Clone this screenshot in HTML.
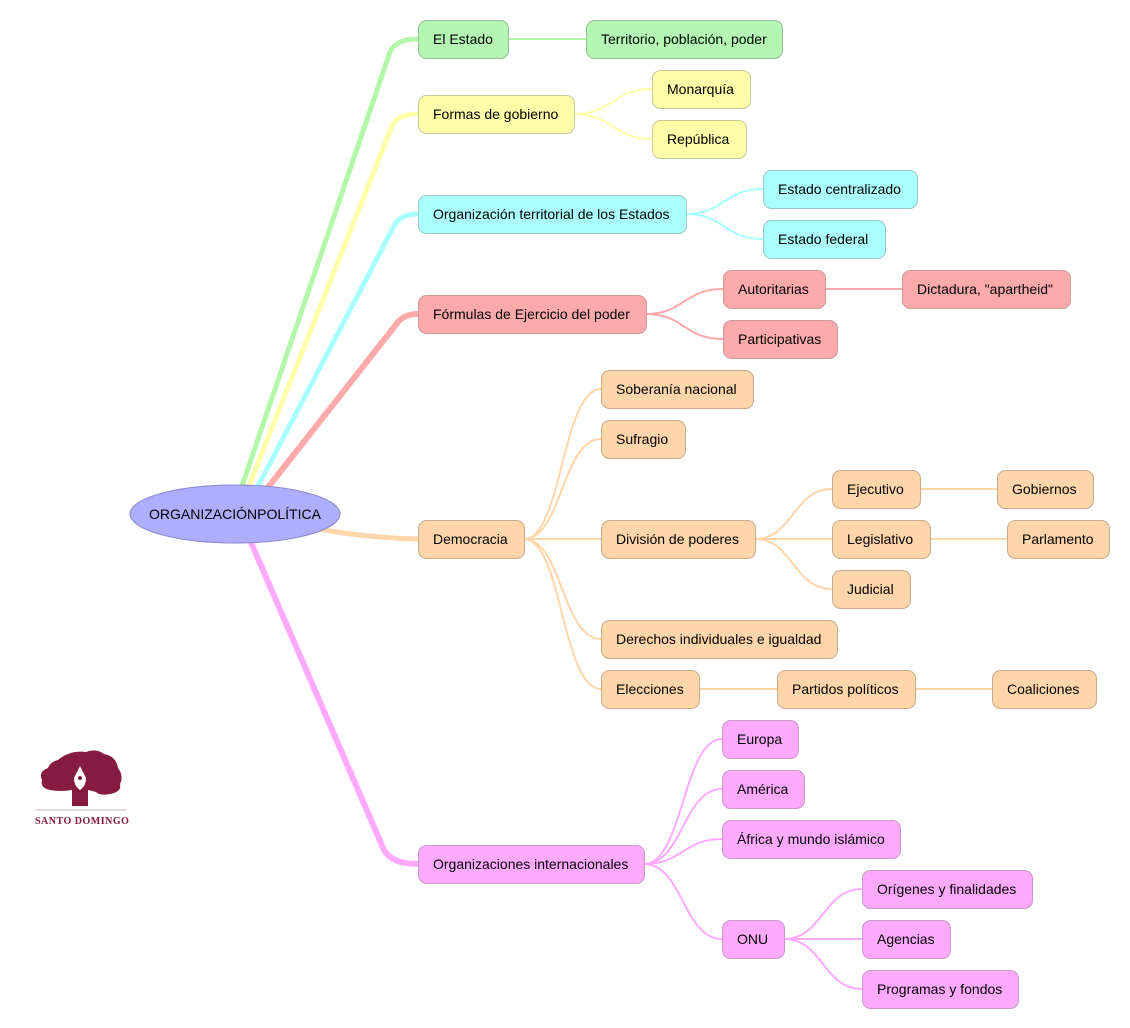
<!DOCTYPE html>
<html><head><meta charset="utf-8"><style>
html,body{margin:0;padding:0;background:#fff;width:1130px;height:1028px;overflow:hidden}
svg text{font-family:"Liberation Sans",sans-serif;font-size:14px;fill:#000}
</style></head><body>
<svg width="1130" height="1028" viewBox="0 0 1130 1028" xmlns="http://www.w3.org/2000/svg">
<g fill="none" stroke-linecap="round">
<!-- main branches -->
<path d="M242,486 L390,52 Q396,39 418,39" stroke="#b3f7a8" stroke-width="5"/>
<path d="M248,488 L392,126 Q398,114 418,114" stroke="#ffffa8" stroke-width="5"/>
<path d="M256,490 L395,224 Q402,214 418,214" stroke="#a8ffff" stroke-width="5"/>
<path d="M266,490 L398,322 Q405,314 418,314" stroke="#ffaaaa" stroke-width="6"/>
<path d="M318,529 Q370,538 418,539" stroke="#ffd5aa" stroke-width="5"/>
<path d="M250,540 L384,850 Q392,864 418,864" stroke="#ffaaff" stroke-width="6"/>
<!-- green -->
<path d="M508,39 L586,39" stroke="#b3f7a8" stroke-width="2"/>
<!-- yellow -->
<g stroke="#ffffa8" stroke-width="2">
<path d="M574,114 C613,114 613,89 652,89"/><path d="M574,114 C613,114 613,139 652,139"/></g>
<g stroke="#a8ffff" stroke-width="2">
<path d="M686,214 C724,214 724,189 763,189"/><path d="M686,214 C724,214 724,239 763,239"/></g>
<g stroke="#ffaaaa" stroke-width="2">
<path d="M646,314 C684,314 684,289 723,289"/><path d="M646,314 C684,314 684,339 723,339"/><path d="M825,289 L902,289"/></g>
<g stroke="#ffd5aa" stroke-width="2">
<path d="M524,539 C562,539 562,389 601,389"/><path d="M524,539 C562,539 562,439 601,439"/><path d="M524,539 L601,539"/>
<path d="M524,539 C562,539 562,639 601,639"/><path d="M524,539 C562,539 562,689 601,689"/>
<path d="M755,539 C793,539 793,489 832,489"/><path d="M755,539 L832,539"/><path d="M755,539 C793,539 793,589 832,589"/>
<path d="M920,489 L997,489"/><path d="M930,539 L1007,539"/><path d="M699,689 L777,689"/><path d="M915,689 L992,689"/></g>
<g stroke="#ffaaff" stroke-width="2">
<path d="M644,864 C683,864 683,739 722,739"/><path d="M644,864 C683,864 683,789 722,789"/><path d="M644,864 C683,864 683,839 722,839"/><path d="M644,864 C683,864 683,939 722,939"/>
<path d="M784,939 C823,939 823,889 862,889"/><path d="M784,939 L862,939"/><path d="M784,939 C823,939 823,989 862,989"/></g>
</g>
<!-- center -->
<ellipse cx="235" cy="514" rx="105" ry="29" fill="#aeaeff" stroke="#8888cc"/>
<text x="235" y="519" text-anchor="middle">ORGANIZACIÓNPOLÍTICA</text>
<!-- nodes -->
<g stroke-width="1">
<g fill="#b3f7b3" stroke="#99bb99">
<rect x="418.5" y="20.5" width="90" height="38" rx="8"/><rect x="586.5" y="20.5" width="196" height="38" rx="8"/></g>
<g fill="#ffffaa" stroke="#c8c89a">
<rect x="418.5" y="95.5" width="156" height="38" rx="8"/><rect x="652.5" y="70.5" width="98" height="38" rx="8"/><rect x="652.5" y="120.5" width="94" height="38" rx="8"/></g>
<g fill="#aaffff" stroke="#99c8c8">
<rect x="418.5" y="195.5" width="268" height="38" rx="8"/><rect x="763.5" y="170.5" width="154" height="38" rx="8"/><rect x="763.5" y="220.5" width="122" height="38" rx="8"/></g>
<g fill="#ffaaaa" stroke="#cc9999">
<rect x="418.5" y="295.5" width="228" height="38" rx="8"/><rect x="723.5" y="270.5" width="102" height="38" rx="8"/><rect x="902.5" y="270.5" width="168" height="38" rx="8"/><rect x="723.5" y="320.5" width="114" height="38" rx="8"/></g>
<g fill="#ffd5aa" stroke="#c8aa8a">
<rect x="418.5" y="520.5" width="106" height="38" rx="8"/><rect x="601.5" y="370.5" width="152" height="38" rx="8"/><rect x="601.5" y="420.5" width="84" height="38" rx="8"/>
<rect x="601.5" y="520.5" width="154" height="38" rx="8"/><rect x="601.5" y="620.5" width="236" height="38" rx="8"/><rect x="601.5" y="670.5" width="98" height="38" rx="8"/>
<rect x="832.5" y="470.5" width="88" height="38" rx="8"/><rect x="997.5" y="470.5" width="96" height="38" rx="8"/><rect x="832.5" y="520.5" width="98" height="38" rx="8"/>
<rect x="1007.5" y="520.5" width="102" height="38" rx="8"/><rect x="832.5" y="570.5" width="78" height="38" rx="8"/><rect x="777.5" y="670.5" width="138" height="38" rx="8"/><rect x="992.5" y="670.5" width="104" height="38" rx="8"/></g>
<g fill="#ffaaff" stroke="#c899c8">
<rect x="418.5" y="845.5" width="226" height="38" rx="8"/><rect x="722.5" y="720.5" width="76" height="38" rx="8"/><rect x="722.5" y="770.5" width="82" height="38" rx="8"/>
<rect x="722.5" y="820.5" width="178" height="38" rx="8"/><rect x="722.5" y="920.5" width="62" height="38" rx="8"/><rect x="862.5" y="870.5" width="170" height="38" rx="8"/>
<rect x="862.5" y="920.5" width="88" height="38" rx="8"/><rect x="862.5" y="970.5" width="156" height="38" rx="8"/></g>
</g>
<g>
<text x="433" y="44">El Estado</text><text x="601" y="44">Territorio, población, poder</text>
<text x="433" y="119">Formas de gobierno</text><text x="667" y="94">Monarquía</text><text x="667" y="144">República</text>
<text x="433" y="219">Organización territorial de los Estados</text><text x="778" y="194">Estado centralizado</text><text x="778" y="244">Estado federal</text>
<text x="433" y="319">Fórmulas de Ejercicio del poder</text><text x="738" y="294">Autoritarias</text><text x="917" y="294">Dictadura, "apartheid"</text><text x="738" y="344">Participativas</text>
<text x="433" y="544">Democracia</text><text x="616" y="394">Soberanía nacional</text><text x="616" y="444">Sufragio</text><text x="616" y="544">División de poderes</text>
<text x="616" y="644">Derechos individuales e igualdad</text><text x="616" y="694">Elecciones</text>
<text x="847" y="494">Ejecutivo</text><text x="1012" y="494">Gobiernos</text><text x="847" y="544">Legislativo</text><text x="1022" y="544">Parlamento</text><text x="847" y="594">Judicial</text>
<text x="792" y="694">Partidos políticos</text><text x="1007" y="694">Coaliciones</text>
<text x="433" y="869">Organizaciones internacionales</text><text x="737" y="744">Europa</text><text x="737" y="794">América</text><text x="737" y="844">África y mundo islámico</text>
<text x="737" y="944">ONU</text><text x="877" y="894">Orígenes y finalidades</text><text x="877" y="944">Agencias</text><text x="877" y="994">Programas y fondos</text>
</g>
<!-- logo -->
<g fill="#861a40">
<path d="M58,760 Q70,750 86,752 Q96,748 104,754 Q116,756 118,768 Q124,776 120,784 Q122,792 110,794 Q100,796 96,792 L88,790 L88,806 L72,806 L72,790 Q60,792 50,790 Q40,788 42,780 Q38,772 48,768 Q50,762 58,760 Z"/>
</g>
<path d="M80,766 L74,778 Q74,786 80,790 Q86,786 86,778 Z" fill="#fff"/>
<circle cx="80" cy="778" r="2" fill="#861a40"/>
<line x1="35" y1="810" x2="127" y2="810" stroke="#d8a8b8" stroke-width="1"/>
<text x="35" y="824" style="font-family:'Liberation Serif',serif;font-size:10px;font-weight:bold;fill:#861a40;letter-spacing:0.5px">SANTO  DOMINGO</text>
</svg>
</body></html>
